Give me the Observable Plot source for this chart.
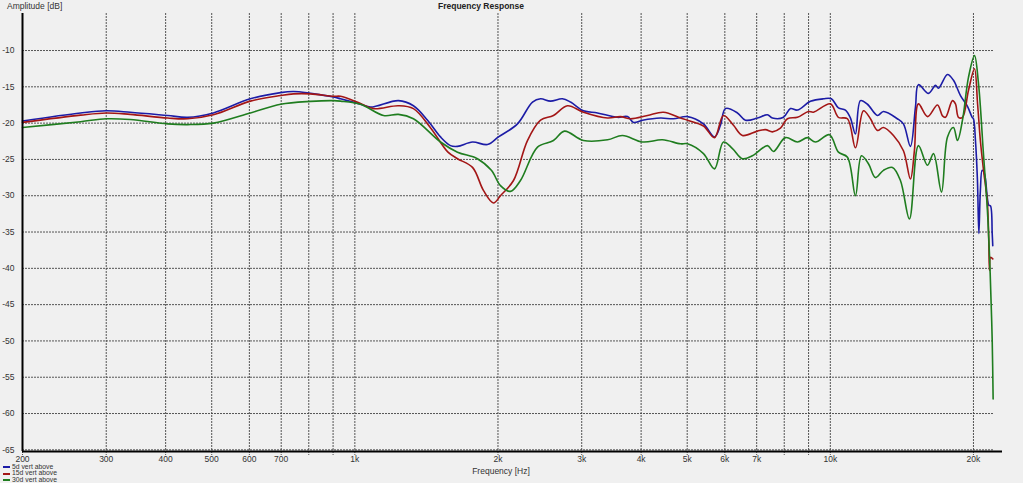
<!DOCTYPE html>
<html>
<head>
<meta charset="utf-8">
<script src="https://cdn.jsdelivr.net/npm/d3@7"></script>
<script src="https://cdn.jsdelivr.net/npm/@observablehq/plot@0.6"></script>
<style>
  html, body { margin: 0; padding: 0; background: #f0f0f0; }
  #wrap { position: relative; width: 1023px; height: 483px; font-family: "Liberation Sans", Arial, sans-serif; color: #222; }
  #title { position: absolute; left: 0; width: 962px; top: 1px; text-align: center; font-size: 8.5px; font-weight: bold; }
  #ylab { position: absolute; left: 7px; top: 1px; font-size: 8.5px; color: #333; }
  #xlab { position: absolute; left: 0; width: 1002px; top: 466px; text-align: center; font-size: 8.5px; color: #333; }
  #legend { position: absolute; left: 3px; top: 464px; font-size: 6.8px; line-height: 6.4px; color: #333; }
  #legend .row { display: flex; align-items: center; white-space: nowrap; height: 6.4px; }
  #legend .sw { display: inline-block; width: 7px; height: 2px; margin-right: 2px; }
  #chart { position: absolute; left: 0; top: 0; }
</style>
</head>
<body>
<div id="wrap">
  <div id="chart"></div>
  <div id="title">Frequency Response</div>
  <div id="ylab">Amplitude [dB]</div>
  <div id="xlab">Frequency [Hz]</div>
  <div id="legend"></div>
</div>
<script>
// ---- data ----
const seriesNames = ["5d vert above", "15d vert above", "30d vert above"];
const seriesColors = ["#1c1ca6", "#a31616", "#1f7d1f"];

const blueFreq = [200, 265, 300, 337, 404, 445, 504, 603, 698, 743, 807, 902, 933, 1028, 1079, 1235, 1328, 1422, 1514, 1589, 1644, 1768, 1901, 2005, 2198, 2364, 2458, 2578, 2732, 2842, 3026, 3238, 3568, 3744, 3855, 4028, 4392, 4678, 5006, 5410, 5706, 5874, 6018, 6378, 6630, 7026, 7374, 7556, 7970, 8244, 8528, 9082, 9672, 10052, 10400, 10760, 11024, 11294, 11572, 11970, 12564, 12932, 13840, 14248, 14738, 15102, 15322, 16086, 16640, 16884, 17636, 18154, 18782, 19428, 19876, 20000, 20194, 20390, 20530, 20680, 20860, 21100, 21380, 21540, 21720, 21900, 21960];
const blueDb = [-19.7, -18.6, -18.3, -18.5, -18.95, -19.2, -18.6, -16.65, -15.8, -15.65, -15.9, -16.4, -16.65, -17.4, -17.8, -16.9, -17.6, -19.6, -21.9, -23.1, -23.2, -22.6, -22.95, -21.9, -20.1, -17.1, -16.65, -16.97, -16.65, -17.1, -18.3, -18.6, -19.2, -19.1, -19.9, -19.6, -19.3, -19.4, -19.1, -20.1, -21.9, -20.3, -18.0, -18.6, -19.6, -19.3, -18.85, -19.3, -19.2, -18.0, -18.2, -17.0, -16.65, -16.65, -17.9, -18.2, -19.3, -21.5, -16.9, -17.4, -18.95, -18.4, -19.4, -20.1, -23.2, -17.8, -14.7, -15.9, -14.8, -15.2, -13.3, -14.1, -16.2, -17.7, -19.2, -19.4, -22.4, -27.9, -35.2, -29.3, -26.5, -27.0, -30.2, -31.3, -31.4, -35.2, -36.9];

const redFreq = [200, 265, 300, 337, 404, 445, 504, 603, 698, 743, 807, 902, 933, 1028, 1095, 1235, 1328, 1441, 1570, 1644, 1768, 1865, 1957, 2024, 2156, 2307, 2458, 2616, 2800, 3026, 3400, 3620, 3800, 4126, 4458, 4840, 5006, 5410, 5706, 5960, 6256, 6534, 7026, 7304, 7556, 7854, 8124, 8528, 8994, 9214, 10004, 10400, 10866, 11294, 11740, 12144, 12564, 12932, 13576, 14248, 14738, 15026, 15322, 16010, 16802, 17214, 17466, 18066, 18330, 18600, 18964, 19522, 20098, 20400, 20680, 21000, 21380, 21540, 21610, 21720, 21960];
const redDb = [-19.9, -18.9, -18.6, -18.8, -19.3, -19.4, -18.85, -16.97, -16.2, -15.97, -15.97, -16.3, -16.3, -17.3, -18.0, -17.6, -18.0, -20.6, -24.0, -24.9, -26.1, -29.3, -31.0, -30.0, -27.9, -22.4, -19.6, -18.95, -17.6, -18.5, -19.3, -19.1, -19.4, -18.95, -18.5, -19.3, -19.6, -20.4, -22.0, -18.95, -20.3, -21.7, -21.1, -20.9, -21.2, -20.7, -19.4, -19.2, -18.4, -18.5, -17.35, -19.2, -19.4, -23.4, -18.3, -19.4, -21.0, -20.6, -21.7, -23.8, -27.7, -23.8, -17.35, -19.1, -17.5, -19.0, -19.2, -16.9, -17.35, -19.2, -19.2, -15.5, -12.5, -17.3, -22.4, -26.5, -30.7, -36.2, -40.3, -38.5, -38.7];

const greenFreq = [200, 265, 300, 337, 404, 445, 504, 603, 698, 807, 902, 933, 1028, 1149, 1235, 1328, 1514, 1644, 1810, 1937, 2024, 2125, 2230, 2422, 2616, 2760, 3026, 3400, 3654, 4028, 4436, 4840, 5006, 5410, 5706, 5960, 6226, 6534, 6858, 7374, 7592, 8046, 8528, 8950, 9304, 9956, 10400, 10866, 11294, 11628, 12028, 12442, 12932, 13510, 14042, 14668, 15322, 16010, 16480, 17130, 17636, 18154, 18510, 18964, 19522, 20098, 20490, 20990, 21380, 21610, 21790, 21900, 22000];
const greenDb = [-20.6, -19.8, -19.4, -19.5, -20.1, -20.2, -20.0, -18.6, -17.4, -17.0, -16.9, -16.97, -17.4, -18.95, -18.8, -19.4, -22.6, -24.0, -24.9, -26.5, -28.6, -29.4, -27.9, -23.3, -22.4, -21.1, -22.4, -22.3, -21.7, -22.6, -22.3, -22.85, -22.85, -24.2, -26.3, -22.6, -23.5, -24.9, -24.5, -23.1, -23.9, -22.0, -22.6, -22.0, -22.6, -21.6, -24.0, -24.7, -30.0, -24.5, -25.6, -27.5, -26.5, -26.1, -27.9, -33.2, -23.1, -25.8, -24.2, -29.5, -21.9, -20.6, -22.4, -19.6, -13.7, -10.7, -14.5, -24.2, -31.6, -38.0, -44.9, -49.9, -58.0];

const xTickValues = [200, 300, 400, 500, 600, 700, 1000, 2000, 3000, 4000, 5000, 6000, 7000, 10000, 20000];
const xGridValues = [200, 300, 400, 500, 600, 700, 800, 900, 1000, 2000, 3000, 4000, 5000, 6000, 7000, 8000, 9000, 10000, 20000];
const yTickValues = [-10, -15, -20, -25, -30, -35, -40, -45, -50, -55, -60, -65];

// ---- build table ----
const freqs = [blueFreq, redFreq, greenFreq];
const dbs = [blueDb, redDb, greenDb];
const data = [];
seriesNames.forEach((name, i) => {
  freqs[i].forEach((f, j) => data.push({series: name, f, db: dbs[i][j]}));
});

const xMin = 200, xMax = 23020, yMin = -65.23, yMax = -4.9;
const fmtX = d => d >= 1000 ? (d / 1000) + "k" : String(d);

const chart = Plot.plot({
  width: 1023,
  height: 483,
  marginTop: 13,
  marginLeft: 22,
  marginRight: 21,
  marginBottom: 32,
  style: {background: "transparent", fontFamily: "'Liberation Sans', Arial, sans-serif", fontSize: "8.5px", color: "#333"},
  x: {type: "log", domain: [xMin, xMax], label: null, axis: null},
  y: {domain: [yMin, yMax], label: null, axis: null},
  color: {domain: seriesNames, range: seriesColors},
  marks: [
    Plot.ruleY(yTickValues, {x1: xMin, x2: 22050, stroke: "#444", strokeOpacity: 0.9, strokeDasharray: "2,1"}),
    Plot.ruleX(xGridValues, {stroke: "#444", strokeOpacity: 0.9, strokeDasharray: "2,1", insetBottom: -4}),
    Plot.line(data, {x: "f", y: "db", z: "series", stroke: "series", strokeWidth: 1.6, curve: "catmull-rom"}),
    Plot.text(xTickValues, {x: d => d, text: fmtX, frameAnchor: "bottom", lineAnchor: "top", dy: 4, fill: "#333"}),
    Plot.axisY(yTickValues, {tickFormat: d => String(d), tickSize: 0, tickPadding: 8, label: null}),
    Plot.ruleX([xMin], {stroke: "black", strokeWidth: 2}),
    Plot.ruleY([yMin], {x1: xMin, x2: xMax, stroke: "black", strokeWidth: 2})
  ]
});
document.getElementById("chart").appendChild(chart);

// legend
const legend = document.getElementById("legend");
seriesNames.forEach((name, i) => {
  const row = document.createElement("div");
  row.className = "row";
  const sw = document.createElement("span");
  sw.className = "sw";
  sw.style.background = seriesColors[i];
  row.appendChild(sw);
  row.appendChild(document.createTextNode(name));
  legend.appendChild(row);
});
</script>
</body>
</html>
